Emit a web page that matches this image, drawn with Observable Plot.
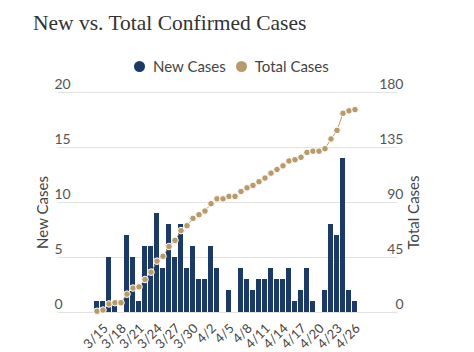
<!DOCTYPE html>
<html>
<head>
<meta charset="utf-8">
<script src="https://cdn.jsdelivr.net/npm/d3@7"></script>
<script src="https://cdn.jsdelivr.net/npm/@observablehq/plot@0.6"></script>
<style>
  body { margin: 0; background: #fff; }
  #wrap { position: relative; width: 474px; height: 352px; overflow: hidden; }
  #title { position: absolute; left: 33px; top: 12px; font-family: "Liberation Serif", serif; font-size: 21.5px; line-height: 22px; color: #333; white-space: nowrap; }
  #legend { position: absolute; left: 134px; top: 57px; font-family: Lato, sans-serif; font-size: 15px; line-height: 18px; color: #444; display: flex; align-items: center; white-space: nowrap; }
  .sw { display: inline-block; width: 11px; height: 11px; border-radius: 50%; margin-right: 8px; }
  .item { display: flex; align-items: center; margin-right: 10px; }
  #chart { position: absolute; left: 0; top: 0; }
</style>
</head>
<body>
<div id="wrap">
  <div id="chart"></div>
  <div id="title">New vs. Total Confirmed Cases</div>
  <div id="legend"></div>
</div>
<script>
const dates = ["3/15","3/16","3/17","3/18","3/19","3/20","3/21","3/22","3/23","3/24","3/25","3/26","3/27","3/28","3/29","3/30","3/31",
  "4/1","4/2","4/3","4/4","4/5","4/6","4/7","4/8","4/9","4/10","4/11","4/12","4/13","4/14","4/15","4/16","4/17","4/18","4/19","4/20",
  "4/21","4/22","4/23","4/24","4/25","4/26","4/27"];
const newCases = [1,1,5,1,0,7,5,1,6,6,9,4,8,5,8,4,6,3,3,6,4,0,2,0,4,3,2,3,3,4,3,3,4,1,2,4,1,0,2,8,7,14,2,1];
const totalCases = [1,2,7,8,8,15,20,21,27,33,42,46,54,59,67,71,77,80,83,89,93,93,95,95,99,102,104,107,110,114,117,120,124,125,127,131,132,132,134,142,149,163,165,166];
const tickLabels = ["3/15","3/18","3/21","3/24","3/27","3/30","4/2","4/5","4/8","4/11","4/14","4/17","4/20","4/23","4/26"];
const leftTicks = [0,5,10,15,20];
const rightTicks = [0,45,90,135,180];
const seriesNames = ["New Cases","Total Cases"];

const navy = "#1b3a66";
const gold = "#b99b6b";
const rows = dates.map((d, i) => ({date: d, newC: newCases[i], total: totalCases[i]}));
const k = 20 / 180;

const chart = Plot.plot({
  width: 474,
  height: 352,
  marginTop: 92,
  marginBottom: 40,
  marginLeft: 58,
  marginRight: 77,
  style: {fontFamily: "Lato, sans-serif", background: "transparent", overflow: "visible"},
  x: {type: "band", domain: dates, paddingInner: 0.12, paddingOuter: 3.45, align: 0.478},
  y: {domain: [0, 20]},
  marks: [
    Plot.gridY(leftTicks, {stroke: "#e2e2e2", strokeOpacity: 1}),
    Plot.barY(rows, {x: "date", y: "newC", fill: navy}),
    Plot.line(rows, {x: "date", y: d => d.total * k, stroke: gold, strokeWidth: 1}),
    Plot.dot(rows, {x: "date", y: d => d.total * k, r: 3.3, fill: gold, stroke: "white", strokeWidth: 1}),
    Plot.axisY(leftTicks, {anchor: "left", tickSize: 0, textAnchor: "start", dx: 5, dy: -8, fontSize: 14, fill: "#555", label: null}),
    Plot.axisY(leftTicks, {anchor: "right", tickSize: 0, textAnchor: "end", dx: -3, dy: -8, fontSize: 14, fill: "#555", label: null,
      tickFormat: (d) => String(rightTicks[leftTicks.indexOf(d)])}),
    Plot.axisX(tickLabels, {anchor: "bottom", tickSize: 0, tickRotate: -45, fontSize: 13, fill: "#444", label: null, dx: 9, dy: 2}),
    Plot.text([seriesNames[0]], {frameAnchor: "left", textAnchor: "middle", dx: -15, dy: 10, rotate: -90, fontSize: 15, fill: "#444"}),
    Plot.text([seriesNames[1]], {frameAnchor: "right", textAnchor: "middle", dx: 17, dy: 10, rotate: -90, fontSize: 15, fill: "#444"})
  ]
});
document.getElementById("chart").appendChild(chart);

const legend = document.getElementById("legend");
[[seriesNames[0], navy], [seriesNames[1], gold]].forEach(([name, c]) => {
  const it = document.createElement("span");
  it.className = "item";
  it.innerHTML = `<span class="sw" style="background:${c}"></span><span>${name}</span>`;
  legend.appendChild(it);
});
</script>
</body>
</html>
